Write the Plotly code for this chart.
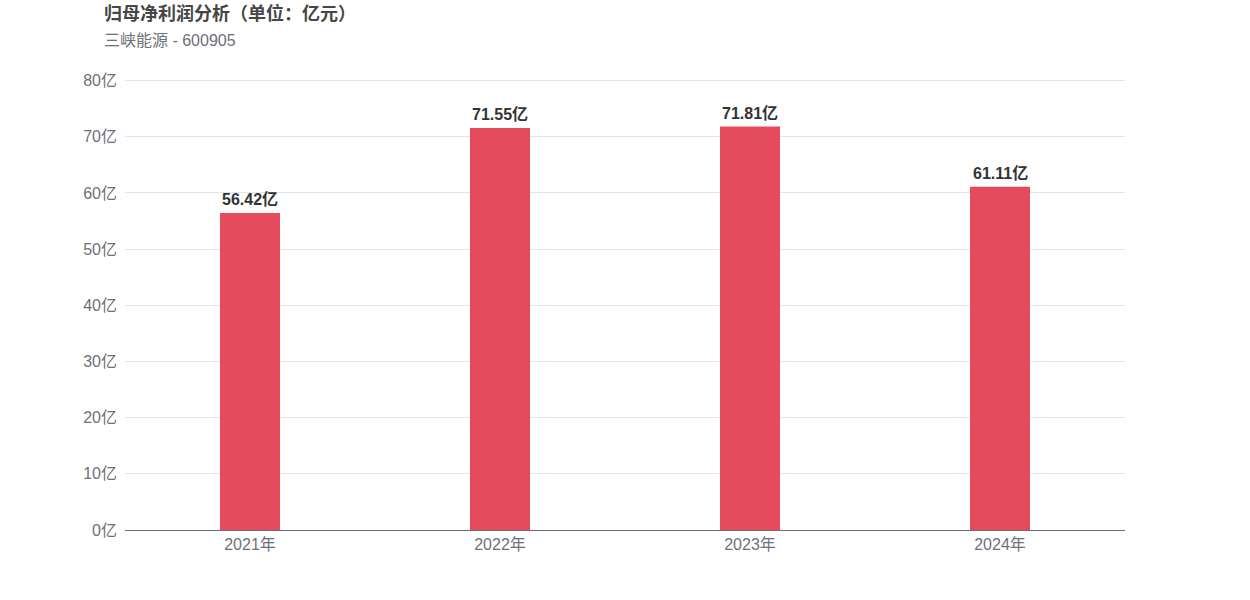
import plotly.graph_objects as go

years = ['2021年', '2022年', '2023年', '2024年']
net_profit = [56.42, 71.55, 71.81, 61.11]  # 亿元
y_ticks = [0, 10, 20, 30, 40, 50, 60, 70, 80]

title = '归母净利润分析（单位：亿元）'
subtitle = '三峡能源 - 600905'

font_family = 'Liberation Sans, Arial, Noto Sans CJK SC, sans-serif'

# plot area: x 125..1125, y 80..530 in pixels
plot_h = 450
def py(pixel_y):
    return (530 - pixel_y) / plot_h

fig = go.Figure(go.Bar(
    x=years,
    y=net_profit,
    marker_color='#E64B5D',
    marker_line_width=0,
    hoverinfo='skip'
))

# value labels above the bars
labels = [
    dict(x=x, y=v, text=f'{v:.2f}亿', xref='x', yref='y',
         xanchor='center', yanchor='bottom', yshift=3, showarrow=False,
         font=dict(size=16, color='#333333', family=font_family, weight='bold'))
    for x, v in zip(years, net_profit)
]

fig.update_layout(
    width=1250,
    height=600,
    paper_bgcolor='white',
    plot_bgcolor='white',
    margin=dict(l=125, r=125, t=80, b=70),
    bargap=0.76,
    showlegend=False,
    font=dict(family=font_family, color='#6E7079', size=16),
    xaxis=dict(
        showline=True,
        linecolor='#6E7079',
        linewidth=1,
        ticks='',
        showgrid=False,
        tickfont=dict(size=16, color='#6E7079'),
    ),
    yaxis=dict(
        range=[0, 80.1],
        tickvals=y_ticks,
        ticktext=[f'{v}亿' for v in y_ticks],
        showgrid=True,
        gridcolor='#E0E6F1',
        gridwidth=1,
        zeroline=False,
        showline=False,
        ticks='',
        ticklabelstandoff=7,
        tickfont=dict(size=16, color='#6E7079'),
    ),
    # top gridline sits on the plot edge, so draw it explicitly
    shapes=[dict(type='line', xref='paper', x0=0, x1=1, yref='y',
                 y0=y_ticks[-1], y1=y_ticks[-1], layer='below',
                 line=dict(color='#E0E6F1', width=1))],
    annotations=labels + [
        dict(text=title, xref='paper', yref='paper', x=-0.023, y=py(13),
             xanchor='left', yanchor='middle', showarrow=False,
             font=dict(size=18, color='#464646', family=font_family, weight='bold')),
        dict(text=subtitle, xref='paper', yref='paper', x=-0.023, y=py(40),
             xanchor='left', yanchor='middle', showarrow=False,
             font=dict(size=16, color='#6E7079', family=font_family)),
    ],
)

# drop the browser's default body margin so the chart sits at the page corner
fig.write_html('out.html', config={'displayModeBar': False},
               post_script="document.body.style.margin='0';")
